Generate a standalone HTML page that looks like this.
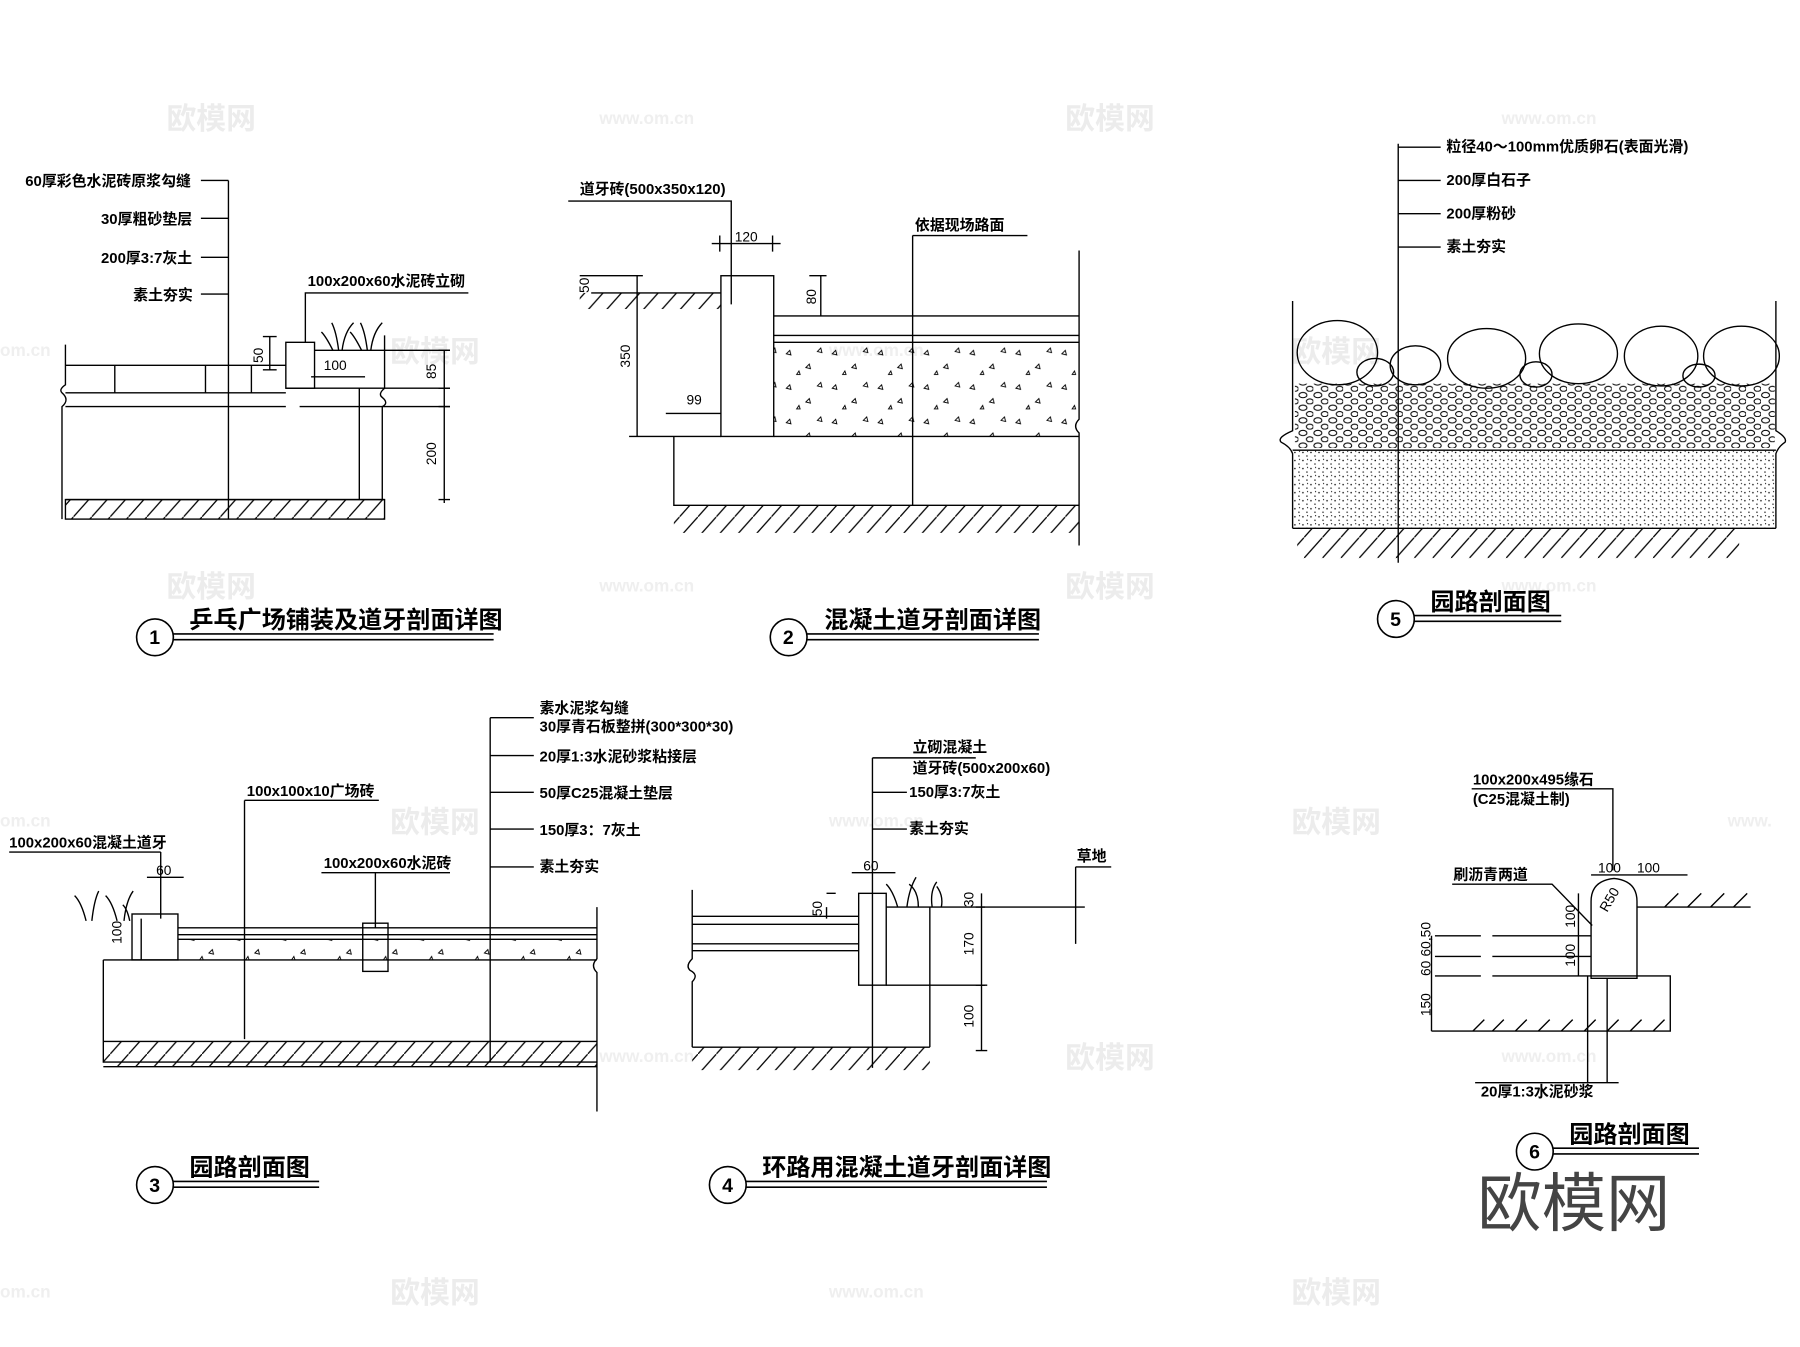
<!DOCTYPE html>
<html><head><meta charset="utf-8"><style>
html,body{margin:0;padding:0;background:#fff}
svg{display:block}
text{font-family:"Liberation Sans","Noto Sans CJK SC",sans-serif;fill:#000;font-weight:bold}
.s{font-size:13px}
.t{font-size:21px}
.d text{font-size:12px;font-weight:normal}
.wm text{fill:#ececec;font-size:26px;font-weight:bold}
.wm2 text{fill:#efefef;font-size:15px}
</style></head><body>
<svg width="1800" height="1347" viewBox="0 0 1568 1173" xmlns="http://www.w3.org/2000/svg">
<defs>
<pattern id="h" width="16" height="18" patternUnits="userSpaceOnUse"><path d="M0 18 L16 0" stroke="#000" stroke-width="1.1"/></pattern>
<pattern id="tri" width="40" height="30" patternUnits="userSpaceOnUse"><path d="M5 8 l3 -3 l1 4z M22 20 l3 -3 l1 4z M32 6 l3 -3 l1 4z M14 26 l2 -3 l1 3z" fill="none" stroke="#000" stroke-width="0.8"/></pattern>
<pattern id="dot" width="7" height="7" patternUnits="userSpaceOnUse"><circle cx="1" cy="2" r="0.7"/><circle cx="4.5" cy="5" r="0.6"/><circle cx="5" cy="1" r="0.5"/></pattern>
<pattern id="peb" width="13" height="11" patternUnits="userSpaceOnUse"><ellipse cx="4" cy="3" rx="3.5" ry="2.3" fill="none" stroke="#000" stroke-width="0.9"/><ellipse cx="10" cy="8.5" rx="3" ry="2.2" fill="none" stroke="#000" stroke-width="0.9"/></pattern>
</defs>
<rect width="1568" height="1173" fill="#fff"/>
<g class="wm"><text x="145" y="112">欧模网</text><text x="928" y="112">欧模网</text><text x="340" y="315">欧模网</text><text x="1125" y="315">欧模网</text><text x="145" y="520">欧模网</text><text x="928" y="520">欧模网</text><text x="340" y="725">欧模网</text><text x="1125" y="725">欧模网</text><text x="928" y="930">欧模网</text><text x="340" y="1135">欧模网</text><text x="1125" y="1135">欧模网</text></g>
<g class="wm2"><text x="522" y="108">www.om.cn</text><text x="1308" y="108">www.om.cn</text><text x="0" y="310">om.cn</text><text x="722" y="310">www.om.cn</text><text x="522" y="515">www.om.cn</text><text x="1308" y="515">www.om.cn</text><text x="0" y="720">om.cn</text><text x="722" y="720">www.om.cn</text><text x="1505" y="720">www.</text><text x="522" y="925">www.om.cn</text><text x="1308" y="925">www.om.cn</text><text x="0" y="1130">om.cn</text><text x="722" y="1130">www.om.cn</text></g>

<!-- Diagram 1 -->
<g fill="none" stroke="#000" stroke-width="1.2">
<path d="M199 157 V452 M199 157 H175 M199 190 H175 M199 224 H175 M199 256 H175"/>
<path d="M57 318 H249 M57 342 H249 M57 354 H249 M57 435 H335"/>
<path d="M57 300 V335 q-6 4 -3 7 q7 6 0 12 V452"/>
<path d="M100 318 V342 M179 318 V342 M219 318 V342"/>
<rect x="249" y="298" width="25" height="40"/>
<path d="M274 305 H392 M249 338 H392 M261 354 H392"/>
<path d="M266 298 V255 H408"/>
<path d="M313 338 V435 M335 292 V338 q-6 5 -2 8 q6 5 0 8 V435"/>
<path d="M271 328 H318 M235 293 V322 M229 293 h12 M229 322 h12"/>
<path d="M387 305 V438 M382 305 h10 M382 338 h10 M382 354 h10 M382 435 h10"/>
<path d="M290 305 q-6 -12 -10 -16 M295 305 q-2 -16 -6 -24 M298 305 q2 -16 10 -24 M315 305 q-6 -12 -10 -16 M320 305 q-2 -16 -6 -24 M323 305 q2 -16 10 -24"/>
<rect x="57" y="435" width="278" height="17" fill="url(#h)"/>
</g>
<g class="s"><text x="22" y="162">60厚彩色水泥砖原浆勾缝</text><text x="88" y="195">30厚粗砂垫层</text><text x="88" y="229">200厚3:7灰土</text><text x="116" y="261">素土夯实</text><text x="268" y="249">100x200x60水泥砖立砌</text></g>
<g class="d"><text x="282" y="322">100</text><text transform="translate(229,316) rotate(-90)">50</text><text transform="translate(380,330) rotate(-90)">85</text><text transform="translate(380,405) rotate(-90)">200</text></g>

<!-- Diagram 2 -->
<g fill="none" stroke="#000" stroke-width="1.2">
<path d="M495 175 H637 V265 M620 212 H680 M627 205 v14 M673 205 v14"/>
<path d="M515 255 H628 M505 240 H560 M555 240 V380 M548 380 H628 M580 360 H628"/>
<rect x="628" y="240" width="46" height="140"/>
<path d="M674 275 H940 M674 292 H940 M674 298 H940 M674 380 H940 M715 240 V275 M705 240 H720"/>
<path d="M795 205 H895 M795 205 V440 M940 218 V365 q-6 6 0 12 V475"/>
<path d="M587 380 V440 H940"/>
<rect x="674" y="298" width="266" height="82" fill="url(#tri)" stroke="none"/>
<rect x="587" y="440" width="353" height="24" fill="url(#h)" stroke="none"/>
<rect x="505" y="255" width="123" height="14" fill="url(#h)" stroke="none"/>
</g>
<g class="s"><text x="505" y="169">道牙砖(500x350x120)</text><text x="797" y="200">依据现场路面</text></g>
<g class="d"><text x="640" y="210">120</text><text x="598" y="352">99</text><text transform="translate(513,255) rotate(-90)">50</text><text transform="translate(549,320) rotate(-90)">350</text><text transform="translate(711,265) rotate(-90)">80</text></g>

<!-- Diagram 5 -->
<g fill="none" stroke="#000" stroke-width="1.2">
<path d="M1218 125 V490 M1218 128 H1255 M1218 157 H1255 M1218 186 H1255 M1218 215 H1255"/>
<path d="M1126 262 V375 q-14 6 -10 10 q8 4 10 10 V460 M1547 262 V375 q10 6 8 10 q-6 4 -8 10 V460"/>
<path d="M1126 392 H1547 M1126 460 H1547"/>
<rect x="1126" y="392" width="421" height="68" fill="url(#dot)" stroke="none"/>
<rect x="1128" y="334" width="418" height="56" fill="url(#peb)" stroke="none"/>
<ellipse cx="1165" cy="307" rx="35" ry="28"/><ellipse cx="1198" cy="324" rx="16" ry="12"/><ellipse cx="1233" cy="318" rx="22" ry="17"/><ellipse cx="1295" cy="312" rx="34" ry="26"/><ellipse cx="1338" cy="326" rx="14" ry="11"/><ellipse cx="1375" cy="308" rx="34" ry="26"/><ellipse cx="1447" cy="310" rx="32" ry="26"/><ellipse cx="1517" cy="310" rx="33" ry="26"/><ellipse cx="1480" cy="327" rx="14" ry="10"/>
<rect x="1130" y="460" width="385" height="26" fill="url(#h)" stroke="none"/>
</g>
<g class="s"><text x="1260" y="132">粒径40～100mm优质卵石(表面光滑)</text><text x="1260" y="161">200厚白石子</text><text x="1260" y="190">200厚粉砂</text><text x="1260" y="219">素土夯实</text></g>

<!-- Diagram 3 -->
<g fill="none" stroke="#000" stroke-width="1.2">
<path d="M427 625 V925 M427 625 H465 M427 658 H465 M427 690 H465 M427 722 H465 M427 755 H465"/>
<path d="M213 697 H330 M213 697 V905 M280 760 H392 M327 760 V808"/>
<path d="M8 742 H140 M140 742 V800"/>
<path d="M155 808 H520 M155 814 H520 M155 818 H520 M90 836 H520 M90 836 V925 H520 M520 790 V835 q-6 6 0 12 V968"/>
<rect x="115" y="796" width="40" height="40"/><rect x="316" y="804" width="22" height="42"/>
<path d="M128 764 H160 M123 800 V836"/>
<path d="M75 802 q-4 -16 -10 -22 M80 802 q2 -18 6 -26 M102 802 q-4 -16 -10 -22 M108 802 q2 -18 8 -26 M113 802 q-2 -10 -6 -14"/>
<rect x="155" y="818" width="365" height="18" fill="url(#tri)" stroke="none"/>
<rect x="90" y="907" width="430" height="22" fill="url(#h)" stroke="none"/>
<path d="M90 907 H520 M90 929 H520"/>
</g>
<g class="s"><text x="470" y="621">素水泥浆勾缝</text><text x="470" y="637">30厚青石板整拼(300*300*30)</text><text x="470" y="663">20厚1:3水泥砂浆粘接层</text><text x="470" y="695">50厚C25混凝土垫层</text><text x="470" y="727">150厚3：7灰土</text><text x="470" y="759">素土夯实</text><text x="215" y="693">100x100x10广场砖</text><text x="8" y="738">100x200x60混凝土道牙</text><text x="282" y="756">100x200x60水泥砖</text></g>
<g class="d"><text x="136" y="762">60</text><text transform="translate(106,822) rotate(-90)">100</text></g>

<!-- Diagram 4 -->
<g fill="none" stroke="#000" stroke-width="1.2">
<path d="M760 660 V930 M760 660 H850 M760 690 H790 M760 722 H790"/>
<path d="M603 798 H748 M603 805 H748 M603 822 H748 M603 828 H748"/>
<path d="M603 775 V835 q-6 6 -2 10 q8 4 2 10 V912"/>
<rect x="748" y="778" width="24" height="80"/>
<path d="M772 790 H858 M772 858 H858 M810 790 V912 M720 790 V800 M720 778 h8 M742 760 H780"/>
<path d="M855 778 V915 M850 790 h10 M850 858 h10 M850 915 h10 M858 790 H945 M937 755 V822 M937 755 H968"/>
<path d="M782 790 q-4 -14 -10 -20 M790 790 q2 -16 8 -26 M800 790 q0 -14 -8 -20 M812 790 q-2 -14 4 -22 M820 790 q2 -10 -4 -18"/>
<path d="M603 912 H810"/>
<rect x="603" y="912" width="207" height="20" fill="url(#h)" stroke="none"/>
</g>
<g class="s"><text x="795" y="655">立砌混凝土</text><text x="795" y="673">道牙砖(500x200x60)</text><text x="792" y="694">150厚3:7灰土</text><text x="792" y="726">素土夯实</text><text x="938" y="750">草地</text></g>
<g class="d"><text x="752" y="758">60</text><text transform="translate(716,798) rotate(-90)">50</text><text transform="translate(848,790) rotate(-90)">30</text><text transform="translate(848,832) rotate(-90)">170</text><text transform="translate(848,895) rotate(-90)">100</text></g>

<!-- Diagram 6 -->
<g fill="none" stroke="#000" stroke-width="1.2">
<path d="M1282 687 H1405 V758 M1265 770 H1352 L1387 806"/>
<path d="M1386 785 q0 -18 20 -20 q20 2 20 20 V852 H1386 Z"/>
<path d="M1386 762 H1470 M1426 790 H1525 M1450 790 l12 -12 M1470 790 l12 -12 M1490 790 l12 -12 M1510 790 l12 -12"/>
<path d="M1250 815 H1290 M1300 815 H1386 M1250 833 H1290 M1300 833 H1386 M1250 850 H1290 M1300 850 H1455 V898 H1285 M1247 898 H1285 M1383 850 V943 M1400 852 V943"/>
<path d="M1247 815 V898 M1375 778 V850"/>
<path d="M1283 898 l10 -10 M1300 898 l10 -10 M1320 898 l10 -10 M1340 898 l10 -10 M1360 898 l10 -10 M1380 898 l10 -10 M1400 898 l10 -10 M1420 898 l10 -10 M1440 898 l10 -10"/>
<path d="M1285 943 H1410"/>
</g>
<g class="s"><text x="1283" y="683">100x200x495缘石</text><text x="1283" y="700">(C25混凝土制)</text><text x="1266" y="766">刷沥青两道</text><text x="1290" y="955">20厚1:3水泥砂浆</text></g>
<g class="d"><text x="1392" y="760">100</text><text x="1426" y="760">100</text><text transform="translate(1372,808) rotate(-90)">100</text><text transform="translate(1372,842) rotate(-90)">100</text><text transform="translate(1246,833) rotate(-90)">60,50</text><text transform="translate(1246,850) rotate(-90)">60</text><text transform="translate(1246,885) rotate(-90)">150</text><text transform="translate(1400,795) rotate(-60)">R50</text></g>

<g fill="none" stroke="#000" stroke-width="1.4">
<circle cx="135" cy="555" r="16"/><path d="M151 552 H430 M151 557 H430"/>
<circle cx="687" cy="555" r="16"/><path d="M703 552 H905 M703 557 H905"/>
<circle cx="1216" cy="539" r="16"/><path d="M1232 536 H1360 M1232 541 H1360"/>
<circle cx="135" cy="1032" r="16"/><path d="M151 1029 H278 M151 1034 H278"/>
<circle cx="634" cy="1032" r="16"/><path d="M650 1029 H912 M650 1034 H912"/>
<circle cx="1337" cy="1003" r="16"/><path d="M1353 1000 H1480 M1353 1005 H1480"/>
</g>
<g class="t"><text x="165" y="547">乒乓广场铺装及道牙剖面详图</text><text x="718" y="547">混凝土道牙剖面详图</text><text x="1246" y="531">园路剖面图</text><text x="165" y="1024">园路剖面图</text><text x="664" y="1024">环路用混凝土道牙剖面详图</text><text x="1367" y="995">园路剖面图</text></g>
<g style="font-size:17px;font-weight:normal"><text x="130" y="561">1</text><text x="682" y="561">2</text><text x="1211" y="545">5</text><text x="130" y="1038">3</text><text x="629" y="1038">4</text><text x="1332" y="1009">6</text></g>
<text x="1287" y="1068" style="font-size:56px;font-weight:normal;fill:#444">欧模网</text>
</svg>
</body></html>
